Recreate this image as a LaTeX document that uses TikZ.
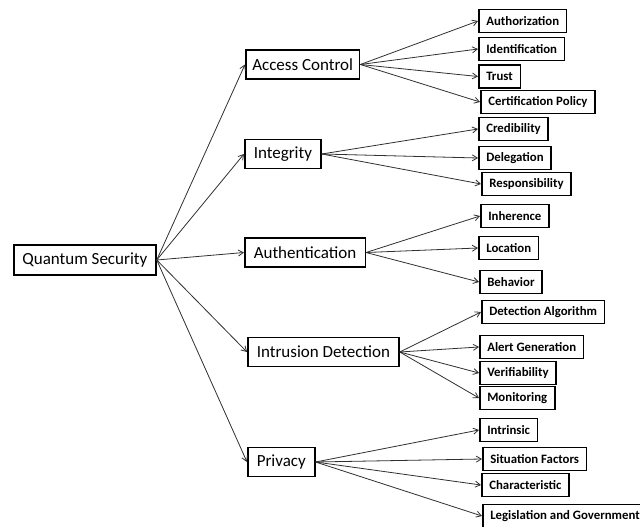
\documentclass[tikz,border=0pt]{standalone}
\usepackage{fontspec}
\setmainfont{Carlito}
\usetikzlibrary{arrows.meta}
\definecolor{qsline}{RGB}{48,48,48}

\begin{document}
\begin{tikzpicture}[x=1pt, y=-1pt,
  rootbox/.style={draw=black, line width=1.8pt, anchor=west, minimum height=30pt,
                  inner xsep=8.5pt, font=\fontsize{17}{19}\selectfont},
  midbox/.style={draw=black, line width=1.5pt, anchor=west, minimum height=29pt,
                 inner xsep=9pt, font=\fontsize{17}{19}\selectfont},
  leafbox/.style={draw=black, line width=1.6pt, anchor=west, minimum height=23pt,
                  inner xsep=7.5pt, font=\fontsize{12.8}{15}\selectfont\bfseries},
  arr/.style={->, >={Straight Barb[length=5pt, width=6pt]}, qsline, line width=0.8pt}]
  \useasboundingbox (0,0) rectangle (640,527);

  % root
  \node[rootbox] (qs) at (13,260) {Quantum Security};

  % second level
  \node[midbox, inner xsep=6.5pt] (ac) at (245,64.5) {Access Control};
  \node[midbox] (ig) at (244,154) {Integrity};
  \node[midbox] (au) at (244,252.5) {Authentication};
  \node[midbox] (id) at (247,352) {Intrusion Detection};
  \node[midbox] (pr) at (247,462) {Privacy};

  % Access Control leaves
  \node[leafbox] (ac1) at (478,21) {Authorization};
  \node[leafbox] (ac2) at (478,49) {Identification};
  \node[leafbox] (ac3) at (478,76.5) {Trust};
  \node[leafbox] (ac4) at (480,102) {Certification Policy};

  % Integrity leaves
  \node[leafbox] (ig1) at (478,129) {Credibility};
  \node[leafbox] (ig2) at (478,158) {Delegation};
  \node[leafbox] (ig3) at (481,184) {Responsibility};

  % Authentication leaves
  \node[leafbox] (au1) at (480,216) {Inherence};
  \node[leafbox] (au2) at (478,248) {Location};
  \node[leafbox] (au3) at (479,282) {Behavior};

  % Intrusion Detection leaves
  \node[leafbox] (id1) at (481,312) {Detection Algorithm};
  \node[leafbox] (id2) at (479,347) {Alert Generation};
  \node[leafbox] (id3) at (479,373) {Verifiability};
  \node[leafbox] (id4) at (479,398) {Monitoring};

  % Privacy leaves
  \node[leafbox] (pr1) at (479,430) {Intrinsic};
  \node[leafbox] (pr2) at (482,459) {Situation Factors};
  \node[leafbox] (pr3) at (481,485) {Characteristic};
  \node[leafbox] (pr4) at (482,516) {Legislation and Government};

  % root to second level
  \draw[arr] (qs.east) -- (ac.west);
  \draw[arr] (qs.east) -- (ig.west);
  \draw[arr] (qs.east) -- (au.west);
  \draw[arr] (qs.east) -- (id.west);
  \draw[arr] (qs.east) -- (pr.west);

  % second level to leaves
  \draw[arr] (ac.east) -- (ac1.west);
  \draw[arr] (ac.east) -- (ac2.west);
  \draw[arr] (ac.east) -- (ac3.west);
  \draw[arr] (ac.east) -- (ac4.west);

  \draw[arr] (ig.east) -- (ig1.west);
  \draw[arr] (ig.east) -- (ig2.west);
  \draw[arr] (ig.east) -- (ig3.west);

  \draw[arr] (au.east) -- (au1.west);
  \draw[arr] (au.east) -- (au2.west);
  \draw[arr] (au.east) -- (au3.west);

  \draw[arr] (id.east) -- (id1.west);
  \draw[arr] (id.east) -- (id2.west);
  \draw[arr] (id.east) -- (id3.west);
  \draw[arr] (id.east) -- (id4.west);

  \draw[arr] (pr.east) -- (pr1.west);
  \draw[arr] (pr.east) -- (pr2.west);
  \draw[arr] (pr.east) -- (pr3.west);
  \draw[arr] (pr.east) -- (pr4.west);
\end{tikzpicture}
\end{document}
